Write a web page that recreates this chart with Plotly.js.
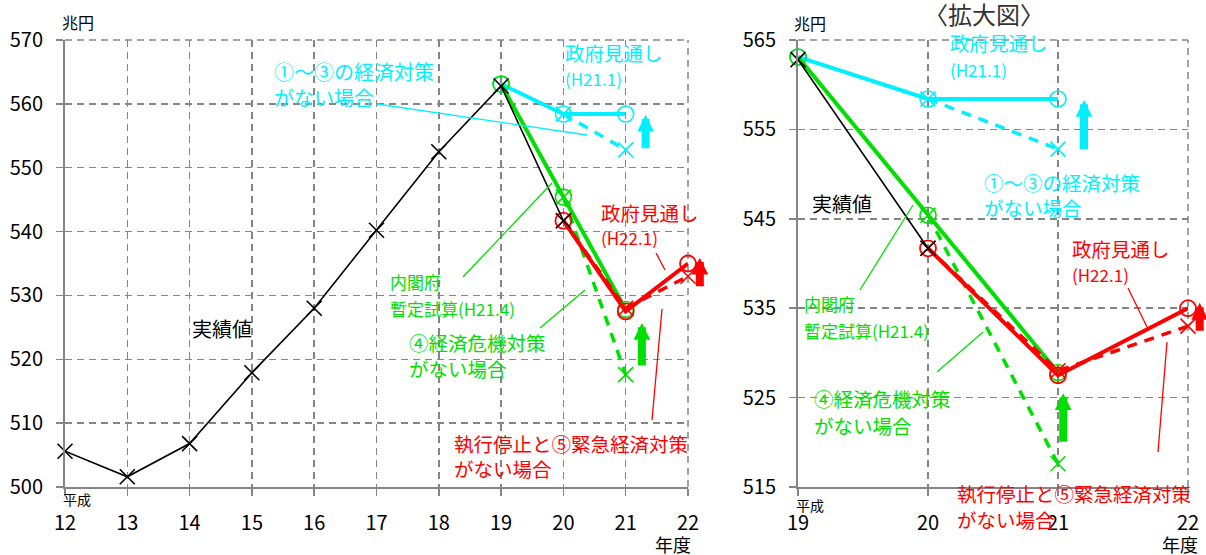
<!DOCTYPE html>
<html>
<head>
<meta charset="utf-8">
<script src="https://cdn.plot.ly/plotly-3.0.1.min.js"></script>
<style>html,body{margin:0;padding:0;background:#fff;}#chart{width:1206px;height:555px;}</style>
</head>
<body>
<div id="chart"></div>
<script>
// ---- data ----
const actualYears = [12, 13, 14, 15, 16, 17, 18, 19, 20];
const actualValues = [505.6, 501.6, 506.8, 517.9, 528.0, 540.2, 552.5, 562.8, 541.7];

const gov211Years = [19, 20, 21];          // 政府見通し(H21.1)
const gov211Values = [563.1, 558.4, 558.4];
const noMeas13Years = [20, 21];            // ①～③の経済対策がない場合
const noMeas13Values = [558.4, 552.8];

const caoYears = [19, 20, 21];             // 内閣府暫定試算(H21.4)
const caoValues = [563.1, 545.4, 527.8];
const noMeas4Years = [20, 21];             // ④経済危機対策がない場合
const noMeas4Values = [545.4, 517.6];

const gov221Years = [20, 21, 22];          // 政府見通し(H22.1)
const gov221Values = [541.7, 527.5, 535.0];
const noMeas5Years = [20, 21, 22];         // 執行停止と⑤緊急経済対策がない場合
const noMeas5Values = [541.7, 528.0, 533.0];

// up-arrows (effect of measures): [year position, from, to]
const arrowsLeft = {x: [21.32, 21.26, 22.19], from: [552.8, 518.8, 531.2], to: [558.3, 525.7, 535.9]};
const arrowsRight = {x: [21.2, 21.04, 22.09], from: [552.6, 519.9, 532.3], to: [558.3, 525.5, 535.6]};

const xTicksLeft = [12, 13, 14, 15, 16, 17, 18, 19, 20, 21, 22];
const yTicksLeft = [500, 510, 520, 530, 540, 550, 560, 570];
const xTicksRight = [19, 20, 21, 22];
const yTicksRight = [515, 525, 535, 545, 555, 565];

// ---- style ----
const W = 1206, H = 555;
const FONT = '"Noto Sans CJK JP", "Noto Sans", sans-serif';
const CYAN = '#00f0ff', GREEN = '#00e000', RED = '#ff0000', BLACK = '#000000';
const GRID = '#858585';
const DASH = '7px,5px';
const colorsArrow = [CYAN, GREEN, RED];

const domL = {x: [65 / W, 688 / W], r: [12, 22]};
const domR = {x: [798 / W, 1188 / W], r: [19, 22]};
const domY = [68 / H, 515 / H];

function px(x) { return x / W; }
function py(y) { return 1 - y / H; }
function xPaper(dom, v) { return dom.x[0] + (v - dom.r[0]) / (dom.r[1] - dom.r[0]) * (dom.x[1] - dom.x[0]); }

function seriesSet(xa, ya) {
  const t = [];
  const common = {xaxis: xa, yaxis: ya, cliponaxis: false, showlegend: false, hoverinfo: 'skip'};
  t.push(Object.assign({x: noMeas13Years, y: noMeas13Values, mode: 'lines+markers',
    line: {color: CYAN, width: 3.5, dash: '10px,8px'},
    marker: {symbol: 'x-thin-open', size: 15, line: {color: CYAN, width: 1.6}}}, common));
  t.push(Object.assign({x: gov211Years, y: gov211Values, mode: 'lines+markers',
    line: {color: CYAN, width: 4},
    marker: {symbol: 'circle-open', size: 16, color: CYAN, line: {color: CYAN, width: 1.6}}}, common));
  t.push(Object.assign({x: noMeas4Years, y: noMeas4Values, mode: 'lines+markers',
    line: {color: GREEN, width: 3.5, dash: '10px,8px'},
    marker: {symbol: 'x-thin-open', size: 15, line: {color: GREEN, width: 1.6}}}, common));
  t.push(Object.assign({x: caoYears, y: caoValues, mode: 'lines+markers',
    line: {color: GREEN, width: 4},
    marker: {symbol: 'circle-open', size: 16, color: GREEN, line: {color: GREEN, width: 1.6}}}, common));
  t.push(Object.assign({x: noMeas5Years, y: noMeas5Values, mode: 'lines+markers',
    line: {color: RED, width: 3.5, dash: '10px,8px'},
    marker: {symbol: 'x-thin-open', size: 15, line: {color: RED, width: 1.6}}}, common));
  t.push(Object.assign({x: gov221Years, y: gov221Values, mode: 'lines+markers',
    line: {color: RED, width: 4},
    marker: {symbol: 'circle-open', size: 16, color: RED, line: {color: RED, width: 1.8}}}, common));
  t.push(Object.assign({x: actualYears, y: actualValues, mode: 'lines+markers',
    line: {color: BLACK, width: 1.6},
    marker: {symbol: 'x-thin-open', size: 15, line: {color: BLACK, width: 1.6}}}, common));
  return t;
}

const traces = seriesSet('x', 'y').concat(seriesSet('x2', 'y2'));

function axisX(dom, range, ticks, anchor) {
  return {domain: dom, range: range, tickvals: ticks, ticktext: ticks.map(String), anchor: anchor,
    showgrid: true, gridcolor: GRID, griddash: DASH, gridwidth: 1.5,
    showline: true, linecolor: GRID, linewidth: 2, zeroline: false,
    ticks: 'outside', ticklen: 7, tickcolor: GRID, tickwidth: 1.5,
    tickfont: {family: FONT, size: 20, color: '#000'}, ticklabelstandoff: 10, fixedrange: true};
}
function axisY(range, ticks, anchor) {
  return {domain: domY, range: range, tickvals: ticks, ticktext: ticks.map(String), anchor: anchor,
    showgrid: true, gridcolor: GRID, griddash: DASH, gridwidth: 1.5,
    showline: true, linecolor: GRID, linewidth: 2, zeroline: false,
    ticks: 'outside', ticklen: 7, tickcolor: GRID, tickwidth: 1.5,
    tickfont: {family: FONT, size: 20, color: '#000'}, ticklabelstandoff: 9, fixedrange: true};
}

// text labels: [text, left px, center px, color, size]
const labels = [
  // left chart
  ['①～③の経済対策', 272, 71, CYAN, 20], ['がない場合', 272, 97, CYAN, 20],
  ['政府見通し', 563, 52, CYAN, 19.5], ['(H21.1)', 563, 78, CYAN, 17],
  ['政府見通し', 599, 212, RED, 19.5], ['(H22.1)', 599, 237, RED, 17],
  ['内閣府', 388, 281, GREEN, 17], ['暫定試算(H21.4)', 388, 308, GREEN, 17],
  ['④経済危機対策', 407, 342, GREEN, 19.5], ['がない場合', 407, 368, GREEN, 19.5],
  ['実績値', 190, 328, BLACK, 20],
  ['執行停止と⑤緊急経済対策', 452, 443, RED, 19.5], ['がない場合', 452, 468, RED, 19.5],
  ['兆円', 60, 22, BLACK, 16], ['平成', 61, 499, BLACK, 14], ['年度', 653, 544, BLACK, 18],
  // right chart
  ['政府見通し', 948, 43, CYAN, 19.5], ['(H21.1)', 948, 69, CYAN, 17],
  ['①～③の経済対策', 982, 182, CYAN, 19.5], ['がない場合', 982, 208, CYAN, 19.5],
  ['実績値', 810, 203, BLACK, 20],
  ['政府見通し', 1070, 248, RED, 19.5], ['(H22.1)', 1070, 274, RED, 17],
  ['内閣府', 802, 303, GREEN, 17], ['暫定試算(H21.4)', 802, 330, GREEN, 17],
  ['④経済危機対策', 812, 398, GREEN, 19.5], ['がない場合', 812, 425, GREEN, 19.5],
  ['執行停止と⑤緊急経済対策', 955, 493, RED, 19.5], ['がない場合', 955, 519, RED, 19.5],
  ['兆円', 792, 23, BLACK, 16], ['平成', 794, 505, BLACK, 14], ['年度', 1160, 544, BLACK, 18]
];

const annotations = labels.map(l => ({
  text: l[0], xref: 'paper', yref: 'paper', x: px(l[1]), y: py(l[2]),
  xanchor: 'left', yanchor: 'middle', showarrow: false,
  font: {family: FONT, size: l[4], color: l[3]}
}));

annotations.push({text: '〈拡大図〉', xref: 'paper', yref: 'paper', x: px(984), y: py(14),
  xanchor: 'center', yanchor: 'middle', showarrow: false,
  font: {family: FONT, size: 24, color: '#333'}});

function addArrows(set, dom, yref) {
  set.x.forEach((xv, i) => {
    annotations.push({text: '', xref: 'paper', yref: yref, x: xPaper(dom, xv), y: set.to[i],
      axref: 'pixel', ayref: yref, ax: 0, ay: set.from[i],
      showarrow: true, arrowhead: 2, arrowsize: 0.42, arrowwidth: 8, arrowcolor: colorsArrow[i]});
  });
}
addArrows(arrowsLeft, domL, 'y');
addArrows(arrowsRight, domR, 'y2');

// leader lines in pixels: [x0,y0,x1,y1,color]
const leaders = [
  [377, 104, 587, 135, CYAN],
  [463, 277, 552, 183, GREEN],
  [540, 328, 585, 290, GREEN],
  [656, 253, 665, 270, RED],
  [652, 420, 662, 309, RED],
  [913, 205, 860, 290, GREEN],
  [937, 372, 983, 332, GREEN],
  [1128, 288, 1147, 327, RED],
  [1158, 452, 1167, 342, RED]
];
const shapes = leaders.map(s => ({type: 'line', xref: 'paper', yref: 'paper',
  x0: px(s[0]), y0: py(s[1]), x1: px(s[2]), y1: py(s[3]), line: {color: s[4], width: 1.3}}));

// dashed top and right frame lines (grid lines at the range ends)
[['x', 'y'], ['x2', 'y2']].forEach(([xa, ya]) => {
  shapes.push({type: 'line', xref: xa + ' domain', yref: ya + ' domain', x0: 0, x1: 1, y0: 1, y1: 1,
    line: {color: GRID, width: 1.5, dash: DASH}, layer: 'below'});
  shapes.push({type: 'line', xref: xa + ' domain', yref: ya + ' domain', x0: 1, x1: 1, y0: 0, y1: 1,
    line: {color: GRID, width: 1.5, dash: DASH}, layer: 'below'});
});

const layout = {
  width: W, height: H, margin: {l: 0, r: 0, t: 0, b: 0},
  paper_bgcolor: '#fff', plot_bgcolor: '#fff', showlegend: false,
  font: {family: FONT},
  xaxis: axisX(domL.x, domL.r, xTicksLeft, 'y'),
  yaxis: axisY([500, 570], yTicksLeft, 'x'),
  xaxis2: axisX(domR.x, domR.r, xTicksRight, 'y2'),
  yaxis2: axisY([515, 565], yTicksRight, 'x2'),
  annotations: annotations, shapes: shapes
};

Plotly.newPlot('chart', traces, layout, {staticPlot: true, displayModeBar: false});
</script>
</body>
</html>
